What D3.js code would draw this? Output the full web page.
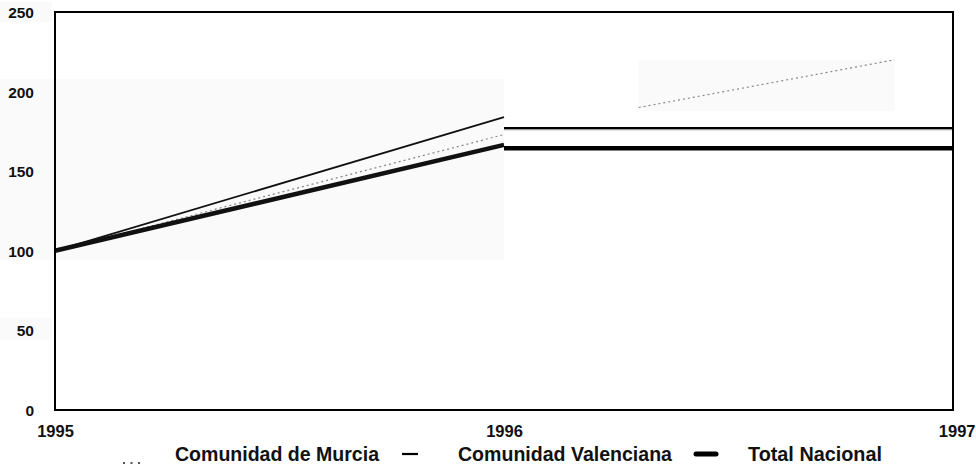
<!DOCTYPE html>
<html>
<head>
<meta charset="utf-8">
<script src="https://cdn.jsdelivr.net/npm/d3@7"></script>
<style>
  html, body { margin: 0; padding: 0; background: #fff; }
  svg { display: block; }
  text { font-family: "Liberation Sans", Arial, sans-serif; font-weight: bold; fill: #111; }
</style>
</head>
<body>
<svg id="chart" width="976" height="468"></svg>
<script>
// ---- data ----
const years = [1995, 1996, 1997];
const yTicks = [0, 50, 100, 150, 200, 250];
const seriesNames = ["Comunidad de Murcia", "Comunidad Valenciana", "Total Nacional"];
// first segment 1995 -> 1996
const murcia = [100, 173];
const valenciana = [100, 184];
const total = [100, 166.5];
// second segment 1996 -> 1997 (as printed)
const valencianaLate = [177, 177];
const totalLate = [164.4, 164.4];
const murciaTailYears = [1996.3, 1996.87];
const murciaTail = [190, 220];

// ---- layout ----
const svg = d3.select("#chart");
const x = d3.scaleLinear().domain([1995, 1997]).range([55, 953]);
const y = d3.scaleLinear().domain([0, 250]).range([410, 12]);

// faint scan panels
const panels = svg.append("g").attr("fill", "#fafafa");
panels.append("rect").attr("x", 0).attr("y", y(208)).attr("width", x(1996) - 0).attr("height", y(94) - y(208));
panels.append("rect").attr("x", 0).attr("y", 2).attr("width", 52).attr("height", 20);
panels.append("rect").attr("x", 0).attr("y", y(58)).attr("width", 52).attr("height", 22);
panels.append("rect").attr("x", x(murciaTailYears[0])).attr("y", y(220)).attr("width", x(murciaTailYears[1]) - x(murciaTailYears[0])).attr("height", y(188) - y(220));

const line = d3.line().x(d => x(d[0])).y(d => y(d[1]));
const seg1 = v => [[years[0], v[0]], [years[1], v[1]]];
const seg2 = v => [[years[1], v[0]], [years[2], v[1]]];

// Murcia dotted
svg.append("path").attr("d", line(seg1(murcia)))
  .attr("fill", "none").attr("stroke", "#888").attr("stroke-width", 1.2).attr("stroke-dasharray", "2,3");
svg.append("path").attr("d", line(murciaTailYears.map((t, i) => [t, murciaTail[i]])))
  .attr("fill", "none").attr("stroke", "#888").attr("stroke-width", 1.2).attr("stroke-dasharray", "2,3");

// Valenciana thin
svg.append("path").attr("d", line(seg1(valenciana)))
  .attr("fill", "none").attr("stroke", "#111").attr("stroke-width", 1.8);
svg.append("path").attr("d", line(seg2(valencianaLate).map(d => [d[0], d[1] - 0.9])))
  .attr("fill", "none").attr("stroke", "#ccc").attr("stroke-width", 1.5);
svg.append("path").attr("d", line(seg2(valencianaLate)))
  .attr("fill", "none").attr("stroke", "#000").attr("stroke-width", 2.2);

// Total thick
svg.append("path").attr("d", line(seg1(total)))
  .attr("fill", "none").attr("stroke", "#111").attr("stroke-width", 4.5);
svg.append("path").attr("d", line(seg2(totalLate)))
  .attr("fill", "none").attr("stroke", "#000").attr("stroke-width", 4.5);

// frame
svg.append("rect").attr("x", x(1995)).attr("y", y(250)).attr("width", x(1997) - x(1995)).attr("height", y(0) - y(250))
  .attr("fill", "none").attr("stroke", "#000").attr("stroke-width", 2);

// y axis
const yAxis = svg.append("g").attr("transform", "translate(34,0)")
  .call(d3.axisLeft(y).tickValues(yTicks).tickSize(0).tickPadding(0).tickFormat(d3.format("d")));
yAxis.select(".domain").remove();
yAxis.selectAll("text").attr("font-size", 15.5).attr("font-family", null).attr("fill", "#111").attr("dy", "0.36em");

// x axis
const xAxis = svg.append("g").attr("transform", "translate(0,437)")
  .call(d3.axisBottom(x).tickValues(years).tickSize(0).tickPadding(0).tickFormat(d3.format("d")));
xAxis.select(".domain").remove();
xAxis.selectAll("text").attr("font-size", 16.5).attr("font-family", null).attr("fill", "#111").attr("dy", 0).attr("y", 0)
  .attr("text-anchor", d => d === 1997 ? "end" : "middle")
  .attr("x", d => d === 1997 ? 975 - x(1997) : 0);

// legend
const lg = svg.append("g");
lg.append("line").attr("x1", 123).attr("x2", 142).attr("y1", 463).attr("y2", 463)
  .attr("stroke", "#555").attr("stroke-width", 2).attr("stroke-dasharray", "2,5.5");
const lgText = [[175, 204], [458, 214], [748, 134]];
seriesNames.forEach((n, i) => {
  lg.append("text").attr("x", lgText[i][0]).attr("y", 461).attr("font-size", 19.5)
    .attr("textLength", lgText[i][1]).attr("lengthAdjust", "spacingAndGlyphs").text(n);
});
lg.append("line").attr("x1", 402).attr("x2", 418).attr("y1", 454).attr("y2", 454).attr("stroke", "#000").attr("stroke-width", 2.2);
lg.append("line").attr("x1", 696).attr("x2", 716).attr("y1", 454).attr("y2", 454).attr("stroke", "#000").attr("stroke-width", 5).attr("stroke-linecap", "round");
</script>
</body>
</html>
